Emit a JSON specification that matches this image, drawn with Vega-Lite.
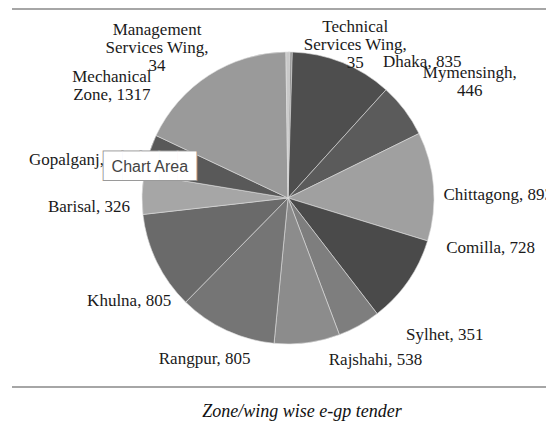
{
  "$schema": "https://vega.github.io/schema/vega-lite/v6.json",
  "width": 552,
  "height": 378,
  "autosize": "none",
  "padding": {"left": 12, "top": 9, "right": -18, "bottom": 34},
  "background": "white",
  "config": {"view": {"stroke": null}},
  "title": {
    "text": "Zone/wing wise e-gp tender",
    "orient": "bottom",
    "anchor": "middle",
    "frame": "group",
    "font": "Liberation Serif",
    "fontStyle": "italic",
    "fontWeight": "normal",
    "fontSize": 18,
    "color": "#111111",
    "baseline": "alphabetic",
    "offset": 29,
    "dx": 14
  },
  "data": {
    "values": [
      {"name": "Technical Services Wing", "value": 35, "label": "Technical|Services Wing,|35"},
      {"name": "Dhaka", "value": 835, "label": "Dhaka, 835"},
      {"name": "Mymensingh", "value": 446, "label": "Mymensingh,|446"},
      {"name": "Chittagong", "value": 893, "label": "Chittagong, 893"},
      {"name": "Comilla", "value": 728, "label": "Comilla, 728"},
      {"name": "Sylhet", "value": 351, "label": "Sylhet, 351"},
      {"name": "Rajshahi", "value": 538, "label": "Rajshahi, 538"},
      {"name": "Rangpur", "value": 805, "label": "Rangpur, 805"},
      {"name": "Khulna", "value": 805, "label": "Khulna, 805"},
      {"name": "Barisal", "value": 326, "label": "Barisal, 326"},
      {"name": "Gopalganj", "value": 330, "label": "Gopalganj, 330"},
      {"name": "Mechanical Zone", "value": 1317, "label": "Mechanical|Zone, 1317"},
      {"name": "Management Services Wing", "value": 34, "label": "Management|Services Wing,|34"}
    ]
  },
  "transform": [
    {"window": [{"op": "row_number", "as": "rank"}]},
    {"stack": "value", "groupby": [], "sort": [{"field": "rank", "order": "ascending"}], "as": ["v0", "v1"]},
    {"calculate": "(datum.v0 + datum.v1) / 2", "as": "mid"}
  ],
  "layer": [
    {
      "mark": {"type": "arc", "outerRadius": 146, "stroke": "#dddddd", "strokeWidth": 0.6},
      "encoding": {
        "theta": {"field": "v0", "type": "quantitative", "stack": null, "scale": {"zero": true, "nice": false}},
        "theta2": {"field": "v1"},
        "color": {
          "field": "name",
          "type": "nominal",
          "legend": null,
          "scale": {
            "domain": ["Technical Services Wing", "Dhaka", "Mymensingh", "Chittagong", "Comilla", "Sylhet", "Rajshahi", "Rangpur", "Khulna", "Barisal", "Gopalganj", "Mechanical Zone", "Management Services Wing"],
            "range": ["#8a8a8a", "#4e4e4e", "#5b5b5b", "#a0a0a0", "#4a4a4a", "#7e7e7e", "#8c8c8c", "#757575", "#6a6a6a", "#a6a6a6", "#595959", "#9a9a9a", "#c9c9c9"]
          }
        }
      }
    },
    {
      "data": {"values": [{}]},
      "mark": {"type": "rule", "color": "#a6a6a6", "strokeWidth": 2},
      "encoding": {"y": {"datum": 1, "type": "quantitative", "scale": {"domain": [0, 1], "nice": false, "zero": false}, "axis": null}}
    },
    {
      "data": {"values": [{}]},
      "mark": {"type": "rule", "color": "#a6a6a6", "strokeWidth": 2},
      "encoding": {"y": {"datum": 0, "type": "quantitative", "axis": null}}
    },
    {
      "transform": [{"filter": "datum.name === 'Technical Services Wing'"}],
      "mark": {"type": "text", "align": "center", "baseline": "middle", "radius": 150, "dx": 65, "dy": -21, "font": "Liberation Serif", "fontSize": 17, "lineBreak": "|", "lineHeight": 18, "color": "#1a1a1a"},
      "encoding": {"theta": {"field": "mid", "type": "quantitative", "stack": null}, "text": {"field": "label"}}
    },
    {
      "transform": [{"filter": "datum.name === 'Dhaka'"}],
      "mark": {"type": "text", "align": "left", "baseline": "middle", "radius": 150, "dx": 39, "dy": 3, "font": "Liberation Serif", "fontSize": 17, "lineBreak": "|", "lineHeight": 18, "color": "#1a1a1a"},
      "encoding": {"theta": {"field": "mid", "type": "quantitative", "stack": null}, "text": {"field": "label"}}
    },
    {
      "transform": [{"filter": "datum.name === 'Mymensingh'"}],
      "mark": {"type": "text", "align": "center", "baseline": "middle", "radius": 150, "dx": 62, "dy": -35, "font": "Liberation Serif", "fontSize": 17, "lineBreak": "|", "lineHeight": 18, "color": "#1a1a1a"},
      "encoding": {"theta": {"field": "mid", "type": "quantitative", "stack": null}, "text": {"field": "label"}}
    },
    {
      "transform": [{"filter": "datum.name === 'Chittagong'"}],
      "mark": {"type": "text", "align": "left", "baseline": "middle", "radius": 150, "dx": 6, "dy": 9, "font": "Liberation Serif", "fontSize": 17, "lineBreak": "|", "lineHeight": 18, "color": "#1a1a1a"},
      "encoding": {"theta": {"field": "mid", "type": "quantitative", "stack": null}, "text": {"field": "label"}}
    },
    {
      "transform": [{"filter": "datum.name === 'Comilla'"}],
      "mark": {"type": "text", "align": "left", "baseline": "middle", "radius": 150, "dx": 35, "dy": -35, "font": "Liberation Serif", "fontSize": 17, "lineBreak": "|", "lineHeight": 18, "color": "#1a1a1a"},
      "encoding": {"theta": {"field": "mid", "type": "quantitative", "stack": null}, "text": {"field": "label"}}
    },
    {
      "transform": [{"filter": "datum.name === 'Sylhet'"}],
      "mark": {"type": "text", "align": "left", "baseline": "middle", "radius": 150, "dx": 45, "dy": 6, "font": "Liberation Serif", "fontSize": 17, "lineBreak": "|", "lineHeight": 18, "color": "#1a1a1a"},
      "encoding": {"theta": {"field": "mid", "type": "quantitative", "stack": null}, "text": {"field": "label"}}
    },
    {
      "transform": [{"filter": "datum.name === 'Rajshahi'"}],
      "mark": {"type": "text", "align": "left", "baseline": "middle", "radius": 150, "dx": 21, "dy": 13, "font": "Liberation Serif", "fontSize": 17, "lineBreak": "|", "lineHeight": 18, "color": "#1a1a1a"},
      "encoding": {"theta": {"field": "mid", "type": "quantitative", "stack": null}, "text": {"field": "label"}}
    },
    {
      "transform": [{"filter": "datum.name === 'Rangpur'"}],
      "mark": {"type": "text", "align": "right", "baseline": "middle", "radius": 150, "dx": 26, "dy": 25, "font": "Liberation Serif", "fontSize": 17, "lineBreak": "|", "lineHeight": 18, "color": "#1a1a1a"},
      "encoding": {"theta": {"field": "mid", "type": "quantitative", "stack": null}, "text": {"field": "label"}}
    },
    {
      "transform": [{"filter": "datum.name === 'Khulna'"}],
      "mark": {"type": "text", "align": "right", "baseline": "middle", "radius": 150, "dx": 18, "dy": 37, "font": "Liberation Serif", "fontSize": 17, "lineBreak": "|", "lineHeight": 18, "color": "#1a1a1a"},
      "encoding": {"theta": {"field": "mid", "type": "quantitative", "stack": null}, "text": {"field": "label"}}
    },
    {
      "transform": [{"filter": "datum.name === 'Barisal'"}],
      "mark": {"type": "text", "align": "right", "baseline": "middle", "radius": 150, "dx": -8, "dy": 13, "font": "Liberation Serif", "fontSize": 17, "lineBreak": "|", "lineHeight": 18, "color": "#1a1a1a"},
      "encoding": {"theta": {"field": "mid", "type": "quantitative", "stack": null}, "text": {"field": "label"}}
    },
    {
      "transform": [{"filter": "datum.name === 'Gopalganj'"}],
      "mark": {"type": "text", "align": "right", "baseline": "middle", "radius": 150, "dx": -11, "dy": 7, "font": "Liberation Serif", "fontSize": 17, "lineBreak": "|", "lineHeight": 18, "color": "#1a1a1a"},
      "encoding": {"theta": {"field": "mid", "type": "quantitative", "stack": null}, "text": {"field": "label"}}
    },
    {
      "transform": [{"filter": "datum.name === 'Mechanical Zone'"}],
      "mark": {"type": "text", "align": "center", "baseline": "middle", "radius": 150, "dx": -95, "dy": 5, "font": "Liberation Serif", "fontSize": 17, "lineBreak": "|", "lineHeight": 18, "color": "#1a1a1a"},
      "encoding": {"theta": {"field": "mid", "type": "quantitative", "stack": null}, "text": {"field": "label"}}
    },
    {
      "transform": [{"filter": "datum.name === 'Management Services Wing'"}],
      "mark": {"type": "text", "align": "center", "baseline": "middle", "radius": 150, "dx": -131, "dy": -18, "font": "Liberation Serif", "fontSize": 17, "lineBreak": "|", "lineHeight": 18, "color": "#1a1a1a"},
      "encoding": {"theta": {"field": "mid", "type": "quantitative", "stack": null}, "text": {"field": "label"}}
    },
    {
      "transform": [{"filter": "datum.name === 'Gopalganj'"}],
      "mark": {"type": "text", "align": "center", "baseline": "middle", "radius": 150, "dx": 5, "dy": 13.5, "font": "DejaVu Sans", "fontSize": 24, "color": "#9a9a9a", "stroke": "#9a9a9a", "strokeWidth": 2},
      "encoding": {"theta": {"field": "mid", "type": "quantitative", "stack": null}, "text": {"value": "█████"}}
    },
    {
      "transform": [{"filter": "datum.name === 'Gopalganj'"}],
      "mark": {"type": "text", "align": "center", "baseline": "middle", "radius": 150, "dx": 5, "dy": 13.5, "font": "DejaVu Sans", "fontSize": 24, "color": "#ffffff"},
      "encoding": {"theta": {"field": "mid", "type": "quantitative", "stack": null}, "text": {"value": "█████"}}
    },
    {
      "transform": [{"filter": "datum.name === 'Gopalganj'"}],
      "mark": {"type": "text", "align": "center", "baseline": "middle", "radius": 150, "dx": 5, "dy": 14, "font": "Liberation Sans", "fontSize": 16, "color": "#444444"},
      "encoding": {"theta": {"field": "mid", "type": "quantitative", "stack": null}, "text": {"value": "Chart Area"}}
    }
  ]
}
